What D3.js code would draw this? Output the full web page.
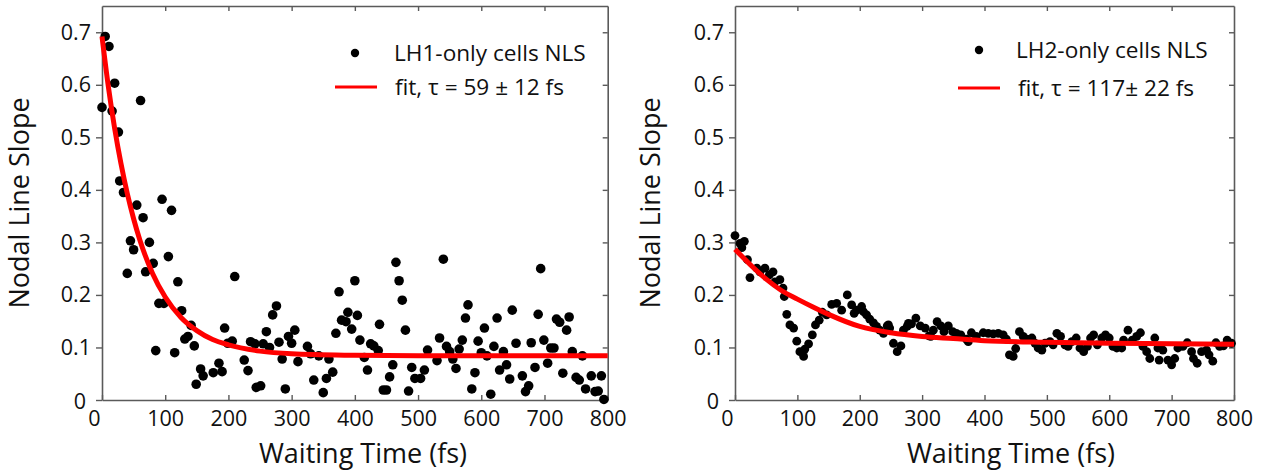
<!DOCTYPE html>
<html>
<head>
<meta charset="utf-8">
<script src="https://cdn.jsdelivr.net/npm/d3@7"></script>
<style>
  body { margin: 0; background: #fff; }
  svg { display: block; }
  text { font-family: "Open Sans", "Noto Sans", sans-serif; fill: #111; }
</style>
</head>
<body>
<div id="chart"></div>
<script>
// LH1-only cells: [waiting time (fs), nodal line slope]
var lh1Points = [[0,0.557],[5,0.692],[11,0.673],[16,0.550],[20,0.603],[26,0.510],[28,0.417],[34,0.395],[40,0.241],[45,0.303],
  [50,0.286],[55,0.371],[61,0.570],[65,0.347],[69,0.244],[75,0.300],[81,0.260],[85,0.094],[90,0.184],[95,0.382],
  [98,0.184],[105,0.273],[110,0.361],[115,0.090],[120,0.225],[126,0.170],[131,0.116],[136,0.121],[141,0.142],[146,0.103],
  [149,0.030],[156,0.059],[160,0.046],[176,0.052],[185,0.070],[190,0.054],[194,0.137],[199,0.108],[206,0.112],[210,0.235],
  [225,0.076],[231,0.056],[235,0.111],[242,0.107],[244,0.024],[251,0.027],[255,0.107],[260,0.130],[265,0.100],[270,0.162],
  [276,0.179],[280,0.110],[285,0.078],[290,0.021],[295,0.121],[300,0.108],[305,0.133],[310,0.073],[325,0.102],[330,0.088],
  [335,0.038],[343,0.084],[350,0.014],[355,0.041],[359,0.078],[365,0.053],[370,0.127],[375,0.206],[379,0.152],[386,0.149],
  [389,0.167],[395,0.135],[400,0.227],[404,0.161],[408,0.114],[415,0.081],[420,0.057],[425,0.107],[430,0.103],[437,0.094],
  [439,0.144],[445,0.019],[450,0.019],[455,0.044],[460,0.067],[465,0.262],[470,0.227],[475,0.190],[480,0.133],[485,0.017],
  [490,0.062],[495,0.041],[504,0.041],[510,0.057],[515,0.095],[530,0.075],[534,0.118],[540,0.268],[545,0.102],[550,0.092],
  [555,0.078],[560,0.060],[565,0.097],[570,0.114],[575,0.156],[579,0.181],[585,0.021],[590,0.052],[595,0.112],[600,0.090],
  [605,0.137],[609,0.084],[615,0.011],[620,0.102],[625,0.156],[629,0.057],[635,0.092],[640,0.067],[645,0.040],[649,0.171],
  [655,0.108],[665,0.046],[670,0.016],[675,0.027],[679,0.109],[685,0.062],[690,0.163],[694,0.250],[699,0.114],[705,0.070],
  [710,0.099],[715,0.099],[719,0.154],[724,0.148],[729,0.051],[735,0.133],[739,0.158],[744,0.092],[750,0.043],[755,0.038],
  [760,0.084],[765,0.021],[774,0.046],[780,0.016],[785,0.017],[790,0.046],[794,0.001]];

// LH2-only cells
var lh2Points = [[0,0.313],[8,0.298],[11,0.290],[15,0.302],[20,0.267],[24,0.233],[35,0.251],[40,0.244],[48,0.251],[55,0.238],
  [61,0.244],[64,0.225],[72,0.229],[77,0.213],[79,0.197],[83,0.163],[88,0.143],[94,0.137],[99,0.112],[104,0.092],
  [110,0.083],[112,0.097],[118,0.107],[124,0.124],[129,0.143],[135,0.152],[140,0.167],[147,0.162],[155,0.182],[163,0.184],
  [171,0.171],[180,0.200],[187,0.181],[191,0.165],[195,0.171],[203,0.178],[206,0.168],[211,0.162],[216,0.154],[222,0.147],
  [227,0.140],[232,0.133],[238,0.127],[244,0.141],[246,0.143],[248,0.137],[254,0.108],[260,0.092],[266,0.103],[270,0.133],
  [276,0.140],[278,0.146],[283,0.145],[290,0.156],[297,0.141],[305,0.137],[311,0.122],[314,0.121],[318,0.133],[324,0.149],
  [330,0.141],[335,0.130],[342,0.141],[349,0.130],[355,0.127],[362,0.124],[371,0.116],[374,0.111],[379,0.128],[387,0.121],
  [398,0.128],[406,0.127],[414,0.126],[422,0.127],[430,0.124],[435,0.116],[440,0.086],[446,0.083],[450,0.098],[456,0.130],
  [462,0.121],[468,0.116],[476,0.118],[481,0.108],[486,0.099],[492,0.095],[497,0.108],[505,0.111],[510,0.105],[516,0.127],
  [522,0.121],[529,0.105],[534,0.102],[540,0.111],[547,0.118],[553,0.099],[559,0.092],[565,0.102],[570,0.118],[575,0.124],
  [581,0.105],[588,0.118],[594,0.124],[600,0.118],[606,0.102],[612,0.099],[620,0.099],[623,0.114],[630,0.133],[637,0.114],
  [644,0.121],[650,0.128],[654,0.102],[660,0.092],[665,0.079],[673,0.118],[678,0.099],[680,0.076],[686,0.095],[694,0.076],
  [700,0.067],[705,0.079],[710,0.099],[718,0.102],[725,0.109],[732,0.092],[735,0.079],[741,0.070],[748,0.092],[756,0.095],
  [760,0.086],[766,0.074],[771,0.109],[777,0.102],[783,0.103],[789,0.114],[796,0.108]];

// fitted curves
var lh1FitTime  = [0, 10, 20, 30, 40, 50, 60, 80, 100, 125, 150, 175, 200, 250, 300, 400, 500, 600, 700, 800];
var lh1FitSlope = [0.692, 0.597, 0.517, 0.450, 0.393, 0.345, 0.304, 0.241, 0.196, 0.157, 0.132, 0.115, 0.105, 0.093, 0.088, 0.085, 0.084, 0.084, 0.084, 0.084];
var lh2FitTime  = [0, 25, 50, 75, 100, 125, 150, 200, 250, 300, 350, 400, 500, 600, 700, 800];
var lh2FitSlope = [0.287, 0.257, 0.230, 0.208, 0.192, 0.177, 0.163, 0.140, 0.128, 0.121, 0.117, 0.113, 0.110, 0.108, 0.107, 0.106];

var xTicks = [0, 100, 200, 300, 400, 500, 600, 700, 800];
var yTicks = [0, 0.1, 0.2, 0.3, 0.4, 0.5, 0.6, 0.7];
var xTitle = "Waiting Time (fs)";
var yTitle = "Nodal Line Slope";

var W = 1266, H = 474;
var svg = d3.select("#chart").append("svg")
    .attr("width", W)
    .attr("height", H);

function drawPanel(p) {
    var x = d3.scaleLinear().domain([0, 800]).range([p.left, p.right]);
    var y = d3.scaleLinear().domain([0, 0.75]).range([400, 6]);
    var g = svg.append("g");
    var axisColor = "#5a5a5a";

    // frame: bottom / top / right ticks inward, left ticks outward
    var bottom = g.append("g").attr("transform", "translate(0,400)")
        .call(d3.axisBottom(x).tickValues(xTicks).tickSizeInner(-5).tickSizeOuter(0).tickPadding(11));
    var top = g.append("g").attr("transform", "translate(0,6)")
        .call(d3.axisTop(x).tickValues(xTicks.slice(1, -1)).tickSizeInner(-5).tickSizeOuter(0).tickFormat(""));
    var right = g.append("g").attr("transform", "translate(" + p.right + ",0)")
        .call(d3.axisRight(y).tickValues(yTicks.slice(1)).tickSizeInner(-5).tickSizeOuter(0).tickFormat(""));
    var left = g.append("g").attr("transform", "translate(" + p.left + ",0)")
        .call(d3.axisLeft(y).tickValues(yTicks).tickSizeInner(6).tickSizeOuter(0).tickPadding(5)
            .tickFormat(function(d) { return d === 0 ? "0" : d3.format(".1f")(d); }));

    [bottom, top, right, left].forEach(function(a) {
        a.select(".domain").attr("stroke", axisColor).attr("stroke-width", 1.6);
        a.selectAll(".tick line").attr("stroke", axisColor).attr("stroke-width", 1.4);
        a.selectAll(".tick text")
            .style("font-family", "'Open Sans', sans-serif")
            .style("font-size", "21.5px")
            .attr("fill", "#111");
    });
    bottom.selectAll(".tick text").filter(function(d) { return d === 0; }).attr("dx", -8);
    left.selectAll(".tick text").filter(function(d) { return d === 0; }).attr("dx", -5).attr("dy", "0.4em");

    // data points
    g.append("g").selectAll("circle")
        .data(p.points)
        .enter().append("circle")
        .attr("cx", function(d) { return x(d[0]); })
        .attr("cy", function(d) { return y(d[1]); })
        .attr("r", p.r)
        .attr("fill", "#000");

    // fit curve
    var line = d3.line()
        .x(function(d) { return x(d[0]); })
        .y(function(d) { return y(d[1]); })
        .curve(d3.curveMonotoneX);
    g.append("path")
        .datum(d3.zip(p.fitTime, p.fitSlope))
        .attr("d", line)
        .attr("fill", "none")
        .attr("stroke", "#ff0000")
        .attr("stroke-width", 5)
        .attr("stroke-linecap", "butt");

    // legend
    g.append("circle")
        .attr("cx", p.legend.dotX).attr("cy", p.legend.y1)
        .attr("r", 4.2).attr("fill", "#000");
    g.append("text")
        .attr("x", p.legend.textX1).attr("y", p.legend.y1 + 8)
        .style("font-size", "22.6px")
        .text(p.label);
    g.append("line")
        .attr("x1", p.legend.lineX1).attr("x2", p.legend.lineX2)
        .attr("y1", p.legend.y2).attr("y2", p.legend.y2)
        .attr("stroke", "#ff0000").attr("stroke-width", 3);
    g.append("text")
        .attr("x", p.legend.textX2).attr("y", p.legend.y2 + 8)
        .style("font-size", "22.6px")
        .text(p.fitLabel);

    // axis titles
    g.append("text")
        .attr("x", p.xTitleX).attr("y", 463)
        .attr("text-anchor", "middle")
        .style("font-size", "27px")
        .text(xTitle);
    g.append("text")
        .attr("transform", "translate(" + p.yTitleX + ",203) rotate(-90)")
        .attr("text-anchor", "middle")
        .style("font-size", "27px")
        .text(yTitle);
}

drawPanel({
    left: 102, right: 607.7, points: lh1Points, r: 4.8,
    fitTime: lh1FitTime, fitSlope: lh1FitSlope,
    label: "LH1-only cells NLS", fitLabel: "fit, \u03c4 = 59 \u00b1 12 fs",
    legend: {dotX: 355, y1: 53, textX1: 394, lineX1: 335, lineX2: 377, y2: 87, textX2: 395},
    xTitleX: 363, yTitleX: 29
});

drawPanel({
    left: 735, right: 1234, points: lh2Points, r: 4.4,
    fitTime: lh2FitTime, fitSlope: lh2FitSlope,
    label: "LH2-only cells NLS", fitLabel: "fit, \u03c4 = 117\u00b1 22 fs",
    legend: {dotX: 979, y1: 50, textX1: 1016, lineX1: 958, lineX2: 1000, y2: 88, textX2: 1018},
    xTitleX: 1011, yTitleX: 660
});
</script>
</body>
</html>
